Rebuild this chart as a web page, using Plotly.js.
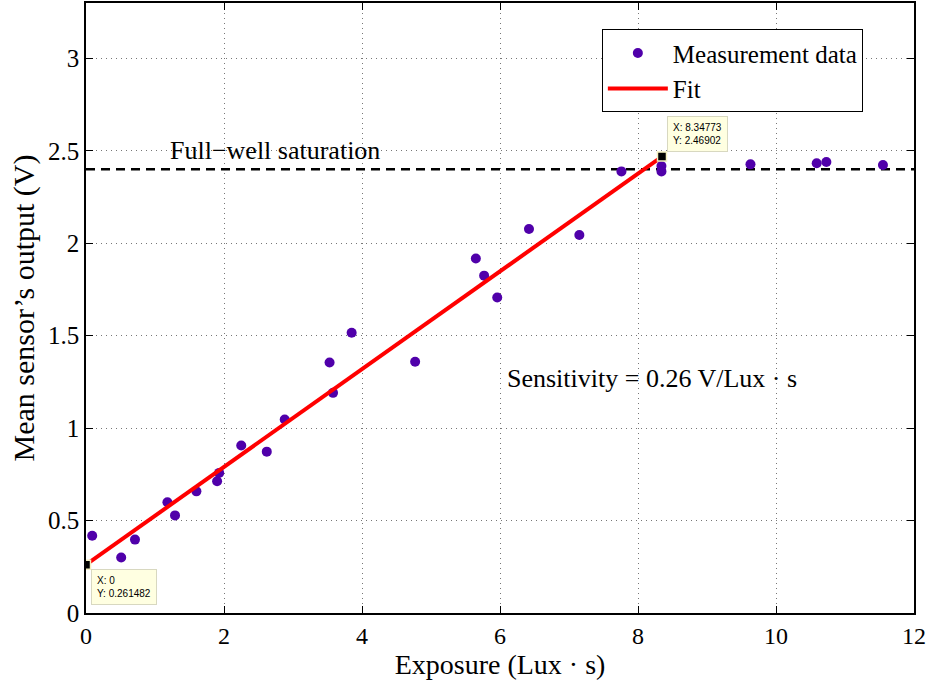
<!DOCTYPE html>
<html>
<head>
<meta charset="utf-8">
<script src="https://cdn.plot.ly/plotly-3.0.1.min.js"></script>
<style>html,body{margin:0;padding:0;background:#fff;}#chart{width:932px;height:681px;}</style>
</head>
<body>
<div id="chart"></div>
<script>
// Measurement data (exposure in Lux·s, mean sensor output in V)
const exposure = [0.09, 0.51, 0.71, 1.18, 1.29, 1.60, 1.90, 1.93, 2.25, 2.62, 2.88, 3.53, 3.58, 3.85, 4.77, 5.65, 5.77, 5.96, 6.42, 7.15, 7.76, 8.34, 8.34, 9.63, 10.59, 10.73, 11.55];
const output   = [0.418, 0.30, 0.397, 0.599, 0.528, 0.658, 0.713, 0.758, 0.906, 0.873, 1.047, 1.355, 1.191, 1.516, 1.359, 1.918, 1.825, 1.707, 2.077, 2.045, 2.389, 2.418, 2.389, 2.427, 2.433, 2.44, 2.424];
// Linear fit endpoints (data-tip values)
const fitX = [0, 8.34773];
const fitY = [0.261482, 2.46902];
// Full-well saturation level
const satX = [0, 12];
const satY = [2.4, 2.4];
const xTicks = [0, 2, 4, 6, 8, 10, 12];
const yTicks = [0, 0.5, 1, 1.5, 2, 2.5, 3];
const yTickLabels = ['0', '0.5', '1', '1.5', '2', '2.5', '3'];

const serif = 'Liberation Serif, Times New Roman, serif';

const traces = [
  {x: satX, y: satY, mode: 'lines', line: {color: '#000', width: 2.5, dash: '9px,6px'}, showlegend: false, hoverinfo: 'skip'},
  {x: exposure, y: output, mode: 'markers', name: 'Measurement data',
   marker: {color: '#5000aa', size: 10, symbol: 'circle'}},
  {x: fitX, y: fitY, mode: 'lines', name: 'Fit', line: {color: '#ff0000', width: 4}},
  {x: fitX, y: fitY, mode: 'markers', showlegend: false,
   marker: {color: '#000', size: 9, symbol: 'square', line: {color: '#f4f0c0', width: 1.5}}}
];

const tipFont = {family: 'Liberation Sans, Arial, sans-serif', size: 10, color: '#000'};
const layout = {
  width: 932, height: 681,
  margin: {l: 86, r: 18, t: 3, b: 68},
  paper_bgcolor: '#fff', plot_bgcolor: '#fff',
  font: {family: serif, size: 25, color: '#000'},
  xaxis: {
    range: [0, 12], tickvals: xTicks, ticks: 'inside', ticklen: 7, tickcolor: '#000',
    showline: true, linecolor: '#000', linewidth: 1.8, mirror: 'ticks',
    showgrid: true, gridcolor: '#777', griddash: '1px,4px', gridwidth: 1, zeroline: false,
    tickfont: {family: serif, size: 24},
    title: {text: 'Exposure (Lux · s)', font: {family: serif, size: 28}, standoff: 0}
  },
  yaxis: {
    range: [0, 3.3], tickvals: yTicks, ticktext: yTickLabels, ticks: 'inside', ticklen: 7, tickcolor: '#000',
    showline: true, linecolor: '#000', linewidth: 1.8, mirror: 'ticks',
    showgrid: true, gridcolor: '#777', griddash: '1px,4px', gridwidth: 1, zeroline: false,
    tickfont: {family: serif, size: 25},
    title: {text: 'Mean sensor\u2019s output (V)', font: {family: serif, size: 30}, standoff: 4}
  },
  legend: {
    x: 0.623, y: 0.957, xanchor: 'left', yanchor: 'top',
    bgcolor: '#fff', bordercolor: '#000', borderwidth: 1,
    font: {family: serif, size: 25}, itemwidth: 60
  },
  annotations: [
    {x: 2.74, y: 2.5, xref: 'x', yref: 'y', text: 'Full\u2212well saturation', showarrow: false,
     font: {family: serif, size: 26}},
    {x: 6.07, y: 1.269, xref: 'x', yref: 'y', xanchor: 'left', text: 'Sensitivity = 0.26 V/Lux · s', showarrow: false,
     font: {family: serif, size: 26}},
    {x: fitX[0], y: fitY[0], xref: 'x', yref: 'y', xanchor: 'left', yanchor: 'top', xshift: 5, yshift: -4,
     text: 'X: ' + fitX[0] + '<br>Y: ' + fitY[0], showarrow: false, align: 'left', font: tipFont,
     bgcolor: '#ffffe1', bordercolor: '#d8d8c0', borderwidth: 1, borderpad: 5},
    {x: fitX[1], y: fitY[1], xref: 'x', yref: 'y', xanchor: 'left', yanchor: 'bottom', xshift: 5, yshift: 5,
     text: 'X: ' + fitX[1] + '<br>Y: ' + fitY[1], showarrow: false, align: 'left', font: tipFont,
     bgcolor: '#ffffe1', bordercolor: '#d8d8c0', borderwidth: 1, borderpad: 5}
  ]
};
Plotly.newPlot('chart', traces, layout, {displayModeBar: false, staticPlot: true});
</script>
</body>
</html>
